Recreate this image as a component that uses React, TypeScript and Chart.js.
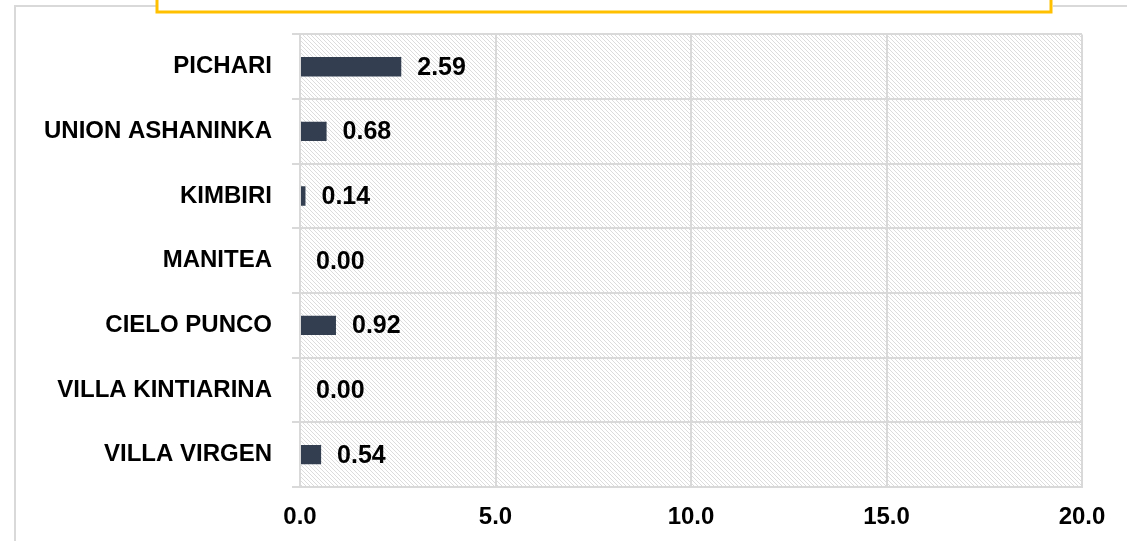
import React, { useEffect, useRef } from "react";
import { Chart, registerables } from "chart.js";

Chart.register(...registerables);

const categories = [
  "PICHARI",
  "UNION ASHANINKA",
  "KIMBIRI",
  "MANITEA",
  "CIELO PUNCO",
  "VILLA KINTIARINA",
  "VILLA VIRGEN",
];
const values = [2.59, 0.68, 0.14, 0.0, 0.92, 0.0, 0.54];
const xTicks = [0, 5, 10, 15, 20];

const FONT = "'Liberation Sans', Arial, sans-serif";
const GRID = "#d9d9d9";

function makePattern(ctx: CanvasRenderingContext2D) {
  const c = document.createElement("canvas");
  c.width = 4;
  c.height = 4;
  const g = c.getContext("2d")!;
  g.fillStyle = "#ffffff";
  g.fillRect(0, 0, 4, 4);
  g.fillStyle = "#dcdcdc";
  for (let i = 0; i < 4; i++) g.fillRect(i, i, 1, 1);
  return ctx.createPattern(c, "repeat");
}

const decoPlugin = {
  id: "deco",
  beforeDraw(chart: any) {
    const ctx = chart.ctx as CanvasRenderingContext2D;
    const a = chart.chartArea;
    ctx.save();
    ctx.strokeStyle = GRID;
    ctx.lineWidth = 2;
    ctx.beginPath();
    ctx.moveTo(15, 545);
    ctx.lineTo(15, 6);
    ctx.lineTo(157, 6);
    ctx.moveTo(1053, 6);
    ctx.lineTo(1130, 6);
    ctx.stroke();
    ctx.strokeStyle = "#FFC000";
    ctx.lineWidth = 3;
    ctx.strokeRect(157, -20, 894, 32);
    const p = makePattern(ctx);
    if (p) {
      ctx.fillStyle = p;
      ctx.fillRect(a.left, a.top, a.right - a.left, a.bottom - a.top);
    }
    ctx.restore();
  },
  afterDatasetsDraw(chart: any) {
    const ctx = chart.ctx as CanvasRenderingContext2D;
    const meta = chart.getDatasetMeta(0);
    ctx.save();
    ctx.fillStyle = "#000000";
    ctx.font = `bold 25px ${FONT}`;
    ctx.textAlign = "left";
    ctx.textBaseline = "middle";
    meta.data.forEach((el: any, i: number) => {
      ctx.fillText(values[i].toFixed(2), el.x + 16, el.y + 1);
    });
    ctx.restore();
  },
};

export default function App() {
  const ref = useRef<HTMLCanvasElement | null>(null);
  useEffect(() => {
    if (!ref.current) return;
    const chart = new Chart(ref.current, {
      type: "bar",
      data: {
        labels: categories,
        datasets: [
          {
            data: values,
            backgroundColor: "#333f50",
            borderWidth: 0,
            barPercentage: 0.3,
            categoryPercentage: 1,
          },
        ],
      },
      options: {
        indexAxis: "y",
        responsive: false,
        animation: false,
        layout: { padding: { left: 0, right: 45, top: 33, bottom: 0 } },
        plugins: {
          legend: { display: false },
          tooltip: { enabled: false },
          title: { display: false },
        },
        scales: {
          x: {
            type: "linear",
            min: 0,
            max: 20,
            afterBuildTicks(scale: any) {
              scale.ticks = xTicks.map((v) => ({ value: v }));
            },
            afterFit(scale: any) {
              scale.height = 54;
            },
            ticks: {
              color: "#000000",
              font: { family: FONT, size: 24, weight: "bold" },
              padding: 16,
              maxRotation: 0,
              autoSkip: false,
              callback: (v: any) => Number(v).toFixed(1),
            },
            grid: { color: GRID, lineWidth: 2, drawTicks: false },
            border: { color: GRID, width: 2 },
          },
          y: {
            type: "category",
            afterFit(scale: any) {
              scale.width = 300;
            },
            ticks: {
              color: "#000000",
              font: { family: FONT, size: 24, weight: "bold" },
              padding: 20,
              autoSkip: false,
            },
            grid: { color: GRID, lineWidth: 2, offset: true, tickLength: 8 },
            border: { color: GRID, width: 2 },
          },
        },
      },
      plugins: [decoPlugin],
    });
    return () => chart.destroy();
  }, []);
  return (
    <div style={{ position: "fixed", left: 0, top: 0, width: 1127, height: 541, background: "#fff" }}>
      <canvas ref={ref} width={1127} height={541} style={{ display: "block" }} />
    </div>
  );
}
